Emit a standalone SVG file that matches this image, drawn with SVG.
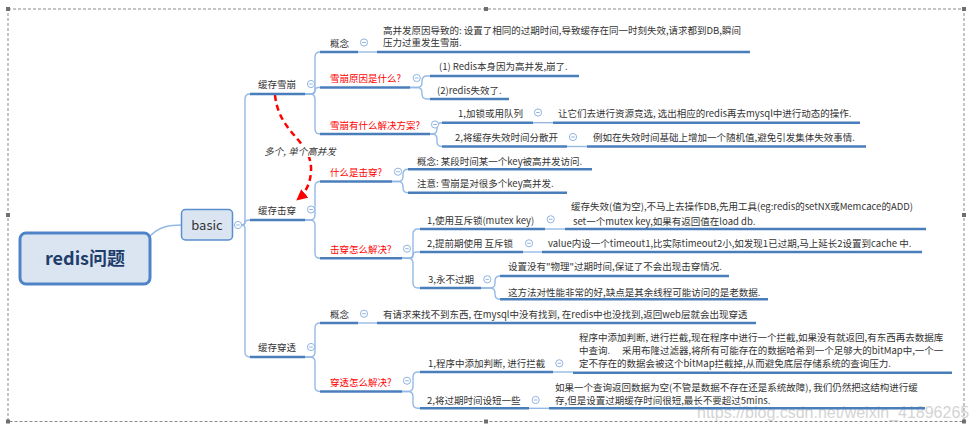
<svg xmlns="http://www.w3.org/2000/svg" width="977" height="430" viewBox="0 0 977 430">
<style>
.t{font-family:"Noto Sans CJK SC","Microsoft YaHei",sans-serif;font-size:9.5px;fill:#333}
.red{fill:#ff0000}
.ul{stroke:#4a7ebb;stroke-width:2.5;fill:none}
.cn{stroke:#95b9e6;stroke-width:1.4;fill:none}
.wm{font-family:"Liberation Sans",Arial,sans-serif;font-size:16px;fill:#d4d4d4}
.hd{fill:#6e6e6e}
</style>
<defs>
<g id="col"><circle cx="0" cy="0" r="3.6" fill="#fff" stroke="#8fb4e3" stroke-width="1"/><line x1="-1.8" y1="0" x2="1.8" y2="0" stroke="#8fb4e3" stroke-width="1"/></g>
<marker id="arr" viewBox="0 0 10 10" refX="8" refY="5" markerWidth="11" markerHeight="11" markerUnits="userSpaceOnUse" orient="auto"><path d="M0,0 L10,5 L0,10 z" fill="#ff0000"/></marker>
</defs>
<rect x="0" y="0" width="977" height="430" fill="#fff"/>
<g id="frame">
<rect x="8" y="9" width="956" height="412.5" fill="none" stroke="#8a8a8a" stroke-width="1" stroke-dasharray="3,2"/>
<rect class="hd" x="6" y="7" width="4" height="4"/><rect class="hd" x="484" y="7" width="4" height="4"/><rect class="hd" x="962" y="7" width="4" height="4"/>
<rect class="hd" x="6" y="213" width="4" height="4"/><rect class="hd" x="962" y="213" width="4" height="4"/>
<rect class="hd" x="6" y="419.5" width="4" height="4"/><rect class="hd" x="484" y="419.5" width="4" height="4"/><rect class="hd" x="962" y="419.5" width="4" height="4"/>
</g>
<text class="wm" x="697" y="418">https://blog.csdn.net/weixin_41896265</text>
<g id="connectors">
<path class="cn" d="M150,236 C160,226 170,225 181.5,225"/>
<path class="cn" d="M242,225 Q245,225 245,221 V99 Q245,94 250,94"/>
<path class="cn" d="M242,225 Q245,225 245,222.5 Q245,220 250,220"/>
<path class="cn" d="M242,225 Q245,225 245,229 V352 Q245,357 250,357"/>
<path class="cn" d="M305,94 H310 Q315,94 315,89 V57 Q315,52 320,52"/>
<path class="cn" d="M305,94 H311.75 Q315,94 315,90.75 Q315,87.5 318.25,87.5 H320"/>
<path class="cn" d="M305,94 H310 Q315,94 315,99 V129 Q315,134 320,134"/>
<path class="cn" d="M358,52 H377"/>
<path class="cn" d="M410,87.5 H417 Q422,87.5 422,82.5 V81 Q422,76 427,76 H430"/>
<path class="cn" d="M410,87.5 H417 Q422,87.5 422,92.5 V94 Q422,99 427,99 H430"/>
<path class="cn" d="M430,134 H432 Q437,134 437,129 V127.7 Q437,122.7 442,122.7"/>
<path class="cn" d="M430,134 H432 Q437,134 437,139 V141.5 Q437,146.5 442,146.5"/>
<path class="cn" d="M533,122.7 H553"/>
<path class="cn" d="M567,146.5 H587"/>
<path class="cn" d="M305,220 H310 Q315,220 315,215 V186.5 Q315,181.5 320,181.5"/>
<path class="cn" d="M305,220 H310 Q315,220 315,225 V253.3 Q315,258.3 320,258.3"/>
<path class="cn" d="M392,181.5 H398 Q403,181.5 403,176.5 V174.3 Q403,169.3 408,169.3"/>
<path class="cn" d="M392,181.5 H398 Q403,181.5 403,186.5 V187.7 Q403,192.7 408,192.7"/>
<path class="cn" d="M402,258.3 H408 Q413,258.3 413,253.3 V234 Q413,229 418,229 H420"/>
<path class="cn" d="M402,258.3 H409.85 Q413,258.3 413,255.15 Q413,252 416.15,252 H420"/>
<path class="cn" d="M402,258.3 H408 Q413,258.3 413,263.3 V283 Q413,288 418,288 H420"/>
<path class="cn" d="M545,229 H565"/>
<path class="cn" d="M523,252 H542"/>
<path class="cn" d="M481,288 H490 Q495,288 495,283 V281 Q495,276 500,276"/>
<path class="cn" d="M481,288 H490 Q495,288 495,293 V294.3 Q495,299.3 500,299.3"/>
<path class="cn" d="M305,357 H310 Q315,357 315,352 V328 Q315,323 320,323"/>
<path class="cn" d="M305,357 H310 Q315,357 315,362 V386.5 Q315,391.5 320,391.5"/>
<path class="cn" d="M358,323 H377"/>
<path class="cn" d="M402,391.5 H408 Q413,391.5 413,386.5 V377 Q413,372 418,372 H420"/>
<path class="cn" d="M402,391.5 H408 Q413,391.5 413,396.5 V403.3 Q413,408.3 418,408.3 H420"/>
<path class="cn" d="M553,372 H573"/>
<path class="cn" d="M529,408.3 H549"/>
<path d="M275,95 C279,135 313,140 311,172 C310,186 304,194 298,199" fill="none" stroke="#ff0000" stroke-width="2.5" stroke-dasharray="6,4" marker-end="url(#arr)"/>
<rect x="263" y="145" width="75" height="12" fill="#fff"/>
<text class="t" x="300" y="154.5" text-anchor="middle" font-style="italic">多个, 单个高并发</text>
</g>
<g id="root">
<rect x="20" y="233" width="130" height="51" rx="6" fill="#dbe5f1" stroke="#4f83c8" stroke-width="3"/>
<text x="85" y="265" text-anchor="middle" font-family="'Noto Sans CJK SC','Microsoft YaHei',sans-serif" font-size="18" font-weight="bold" fill="#1f3d6b">redis问题</text>
</g>
<g id="basic">
<rect x="181.5" y="209.5" width="51" height="30.5" rx="4" fill="#dbe5f1" stroke="#5a8ed0" stroke-width="1.5"/>
<text x="207" y="229.5" text-anchor="middle" font-family="'Noto Sans CJK SC','Microsoft YaHei',sans-serif" font-size="13" fill="#333">basic</text>
<use href="#col" x="238" y="225"/>
</g>
<g id="n-xuebeng">
<text class="t" x="258" y="87.5">缓存雪崩</text>
<line class="ul" x1="250" y1="94" x2="305" y2="94"/>
<use href="#col" x="311" y="84"/>
</g>
<g id="n-xb-gainian">
<text class="t" x="330" y="46.5">概念</text>
<line class="ul" x1="320" y1="52" x2="358" y2="52"/>
<use href="#col" x="364" y="42.5"/>
</g>
<g id="n-xb-gainian-text">
<text class="t" x="383" y="33.5">高并发原因导致的: 设置了相同的过期时间,导致缓存在同一时刻失效,请求都到DB,瞬间</text>
<text class="t" x="383" y="46.2">压力过重发生雪崩.</text>
<line class="ul" x1="377" y1="52" x2="750" y2="52"/>
</g>
<g id="n-xb-yuanyin">
<text class="t red" x="330" y="81.5">雪崩原因是什么?</text>
<line class="ul" x1="320" y1="87.5" x2="410" y2="87.5"/>
<use href="#col" x="416.7" y="78"/>
</g>
<g id="n-xb-y1">
<text class="t" x="439" y="69.8">(1) Redis本身因为高并发,崩了.</text>
<line class="ul" x1="430" y1="76" x2="579" y2="76"/>
</g>
<g id="n-xb-y2">
<text class="t" x="437" y="93.5">(2)redis失效了.</text>
<line class="ul" x1="430" y1="99" x2="509" y2="99"/>
</g>
<g id="n-xb-fangan">
<text class="t red" x="330" y="128.5">雪崩有什么解决方案?</text>
<line class="ul" x1="320" y1="134" x2="430" y2="134"/>
<use href="#col" x="435" y="124.5"/>
</g>
<g id="n-xb-f1">
<text class="t" x="458" y="116.8">1,加锁或用队列</text>
<line class="ul" x1="442" y1="122.7" x2="533" y2="122.7"/>
<use href="#col" x="538" y="112.5"/>
</g>
<g id="n-xb-f1-text">
<text class="t" x="558" y="116.5">让它们去进行资源竞选, 选出相应的redis再去mysql中进行动态的操作.</text>
<line class="ul" x1="553" y1="122.7" x2="860" y2="122.7"/>
</g>
<g id="n-xb-f2">
<text class="t" x="455" y="140.5">2,将缓存失效时间分散开</text>
<line class="ul" x1="442" y1="146.5" x2="567" y2="146.5"/>
<use href="#col" x="573" y="137"/>
</g>
<g id="n-xb-f2-text">
<text class="t" x="593" y="140.5">例如在失效时间基础上增加一个随机值,避免引发集体失效事情.</text>
<line class="ul" x1="587" y1="146.5" x2="866" y2="146.5"/>
</g>
<g id="n-jichuan">
<text class="t" x="258" y="214">缓存击穿</text>
<line class="ul" x1="250" y1="220" x2="305" y2="220"/>
<use href="#col" x="311" y="209.5"/>
</g>
<g id="n-jc-shenme">
<text class="t red" x="330" y="175.5">什么是击穿?</text>
<line class="ul" x1="320" y1="181.5" x2="392" y2="181.5"/>
<use href="#col" x="398" y="171.7"/>
</g>
<g id="n-jc-s1">
<text class="t" x="417" y="164.5">概念: 某段时间某一个key被高并发访问.</text>
<line class="ul" x1="408" y1="169.3" x2="592" y2="169.3"/>
</g>
<g id="n-jc-s2">
<text class="t" x="417" y="186.5">注意: 雪崩是对很多个key高并发.</text>
<line class="ul" x1="408" y1="192.7" x2="567" y2="192.7"/>
</g>
<g id="n-jc-jiejue">
<text class="t red" x="330" y="252.5">击穿怎么解决?</text>
<line class="ul" x1="320" y1="258.3" x2="402" y2="258.3"/>
<use href="#col" x="407" y="248.7"/>
</g>
<g id="n-jc-j1">
<text class="t" x="427" y="224">1,使用互斥锁(mutex key)</text>
<line class="ul" x1="420" y1="229" x2="545" y2="229"/>
<use href="#col" x="550.7" y="219.3"/>
</g>
<g id="n-jc-j1-text">
<text class="t" x="571" y="210.2">缓存失效(值为空),不马上去操作DB,先用工具(eg:redis的setNX或Memcace的ADD)</text>
<text class="t" x="573" y="224.5">set一个mutex key,如果有返回值在load db.</text>
<line class="ul" x1="565" y1="229" x2="926" y2="229"/>
</g>
<g id="n-jc-j2">
<text class="t" x="427" y="246.8">2,提前期使用 互斥锁</text>
<line class="ul" x1="420" y1="252" x2="523" y2="252"/>
<use href="#col" x="529" y="243.3"/>
</g>
<g id="n-jc-j2-text">
<text class="t" x="548" y="246.8">value内设一个timeout1,比实际timeout2小,如发现1已过期,马上延长2设置到cache 中.</text>
<line class="ul" x1="542" y1="252" x2="922" y2="252"/>
</g>
<g id="n-jc-j3">
<text class="t" x="428" y="282.8">3,永不过期</text>
<line class="ul" x1="420" y1="288" x2="481" y2="288"/>
<use href="#col" x="487.3" y="279.3"/>
</g>
<g id="n-jc-j3-a">
<text class="t" x="508" y="269.5">设置没有"物理"过期时间,保证了不会出现击穿情况.</text>
<line class="ul" x1="500" y1="276" x2="729" y2="276"/>
</g>
<g id="n-jc-j3-b">
<text class="t" x="508" y="296.2">这方法对性能非常的好,缺点是其余线程可能访问的是老数据.</text>
<line class="ul" x1="500" y1="299.3" x2="768" y2="299.3"/>
</g>
<g id="n-chuantou">
<text class="t" x="258" y="350.5">缓存穿透</text>
<line class="ul" x1="250" y1="357" x2="305" y2="357"/>
<use href="#col" x="311" y="347"/>
</g>
<g id="n-ct-gainian">
<text class="t" x="330" y="317.5">概念</text>
<line class="ul" x1="320" y1="323" x2="358" y2="323"/>
<use href="#col" x="364" y="313.7"/>
</g>
<g id="n-ct-gainian-text">
<text class="t" x="383" y="317.5">有请求来找不到东西, 在mysql中没有找到, 在redis中也没找到,返回web层就会出现穿透</text>
<line class="ul" x1="377" y1="323" x2="756" y2="323"/>
</g>
<g id="n-ct-jiejue">
<text class="t red" x="330" y="385.5">穿透怎么解决?</text>
<line class="ul" x1="320" y1="391.5" x2="402" y2="391.5"/>
<use href="#col" x="407" y="380.7"/>
</g>
<g id="n-ct-j1">
<text class="t" x="428" y="366.8">1,程序中添加判断, 进行拦截</text>
<line class="ul" x1="420" y1="372" x2="553" y2="372"/>
<use href="#col" x="559.3" y="363.3"/>
</g>
<g id="n-ct-j1-text">
<text class="t" x="579" y="340.8">程序中添加判断, 进行拦截,现在程序中进行一个拦截,如果没有就返回,有东西再去数据库</text>
<text class="t" y="354.2"><tspan x="579">中查询.</tspan><tspan x="622">采用布隆过滤器,将所有可能存在的数据哈希到一个足够大的bitMap中,一个一</tspan></text>
<text class="t" x="579" y="366.8">定不存在的数据会被这个bitMap拦截掉,从而避免底层存储系统的查询压力.</text>
<line class="ul" x1="573" y1="372.7" x2="952" y2="372.7"/>
</g>
<g id="n-ct-j2">
<text class="t" x="427" y="403.5">2,将过期时间设短一些</text>
<line class="ul" x1="420" y1="408.3" x2="529" y2="408.3"/>
<use href="#col" x="535.7" y="400"/>
</g>
<g id="n-ct-j2-text">
<text class="t" x="555" y="390.8">如果一个查询返回数据为空(不管是数据不存在还是系统故障), 我们仍然把这结构进行缓</text>
<text class="t" x="555" y="403.5">存,但是设置过期缓存时间很短,最长不要超过5mins.</text>
<line class="ul" x1="549" y1="408.3" x2="925" y2="408.3"/>
</g>
</svg>
